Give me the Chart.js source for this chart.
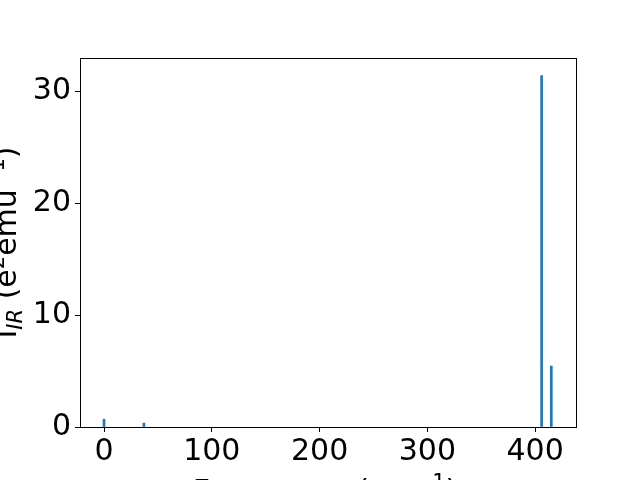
<!DOCTYPE html>
<html>
<head>
<meta charset="UTF-8">
<script src="https://cdn.jsdelivr.net/npm/chart.js"></script>
<style>
  html, body { margin: 0; padding: 0; background: #fff; }
  canvas { display: block; }
</style>
</head>
<body>
<canvas id="chart" width="640" height="480"></canvas>
<script>
// IR spectrum data
const freqs = [0, 37, 406, 415];
const intensities = [0.7, 0.35, 31.4, 5.45];
const xTicks = [0, 100, 200, 300, 400];
const yTicks = [0, 10, 20, 30];

const FONT = '"DejaVu Sans", sans-serif';

// frame + axis titles (subscripts / superscripts drawn by hand)
const framePlugin = {
  id: 'frame',
  afterDraw(chart) {
    const ctx = chart.ctx, a = chart.chartArea;
    ctx.save();
    ctx.strokeStyle = '#000';
    ctx.lineWidth = 1;
    ctx.strokeRect(Math.round(a.left) + 0.5, Math.round(a.top) + 0.5,
                   Math.round(a.right - a.left), Math.round(a.bottom - a.top));

    ctx.fillStyle = '#000';
    ctx.textBaseline = 'alphabetic';

    // y label: I_IR (e²emu⁻¹)
    const ypieces = [
      ['I', '30px ', 0], ['IR', 'italic 21px ', 6], [' (e', '30px ', 0], ['2', '21px ', -12],
      ['emu', '30px ', 0], ['\u22121', '21px ', -12], [')', '30px ', 0]
    ];
    let w = 0;
    ypieces.forEach(p => { ctx.font = p[1] + FONT; w += ctx.measureText(p[0]).width; });
    ctx.translate(16, (a.top + a.bottom) / 2);
    ctx.rotate(-Math.PI / 2);
    let x = -w / 2;
    ypieces.forEach(p => {
      ctx.font = p[1] + FONT;
      ctx.fillText(p[0], x, p[2]);
      x += ctx.measureText(p[0]).width;
    });
    ctx.setTransform(1, 0, 0, 1, 0, 0);

    // x label: Frequency (cm⁻¹)
    const xpieces = [['Frequency (cm', '30px ', 0], ['\u22121', '21px ', -12], [')', '30px ', 0]];
    w = 0;
    xpieces.forEach(p => { ctx.font = p[1] + FONT; w += ctx.measureText(p[0]).width; });
    x = 325 - w / 2;
    xpieces.forEach(p => {
      ctx.font = p[1] + FONT;
      ctx.fillText(p[0], x, 501 + p[2]);
      x += ctx.measureText(p[0]).width;
    });
    ctx.restore();
  }
};

new Chart(document.getElementById('chart'), {
  type: 'bar',
  data: {
    datasets: [{
      data: freqs.map((f, i) => ({ x: f, y: intensities[i] })),
      backgroundColor: '#1f77b4',
      borderWidth: 0,
      barThickness: 2
    }]
  },
  options: {
    responsive: false,
    animation: false,
    layout: { padding: { top: 58, right: 64, left: 0, bottom: 0 } },
    plugins: { legend: { display: false }, tooltip: { enabled: false } },
    scales: {
      x: {
        type: 'linear',
        offset: false,
        min: -22.3,
        max: 437.9,
        afterBuildTicks: s => { s.ticks = xTicks.map(v => ({ value: v })); },
        afterFit: s => { s.height = 53; },
        border: { display: false },
        grid: { offset: false, drawOnChartArea: false, color: '#000', tickLength: 5 },
        ticks: { color: '#000', font: { family: FONT, size: 30 }, padding: 2, maxRotation: 0 }
      },
      y: {
        min: 0,
        max: 32.97,
        afterBuildTicks: s => { s.ticks = yTicks.map(v => ({ value: v })); },
        afterFit: s => { s.width = 80; },
        border: { display: false },
        grid: { drawOnChartArea: false, color: '#000', tickLength: 5 },
        ticks: { color: '#000', font: { family: FONT, size: 30 }, padding: 4 }
      }
    }
  },
  plugins: [framePlugin]
});
</script>
</body>
</html>
